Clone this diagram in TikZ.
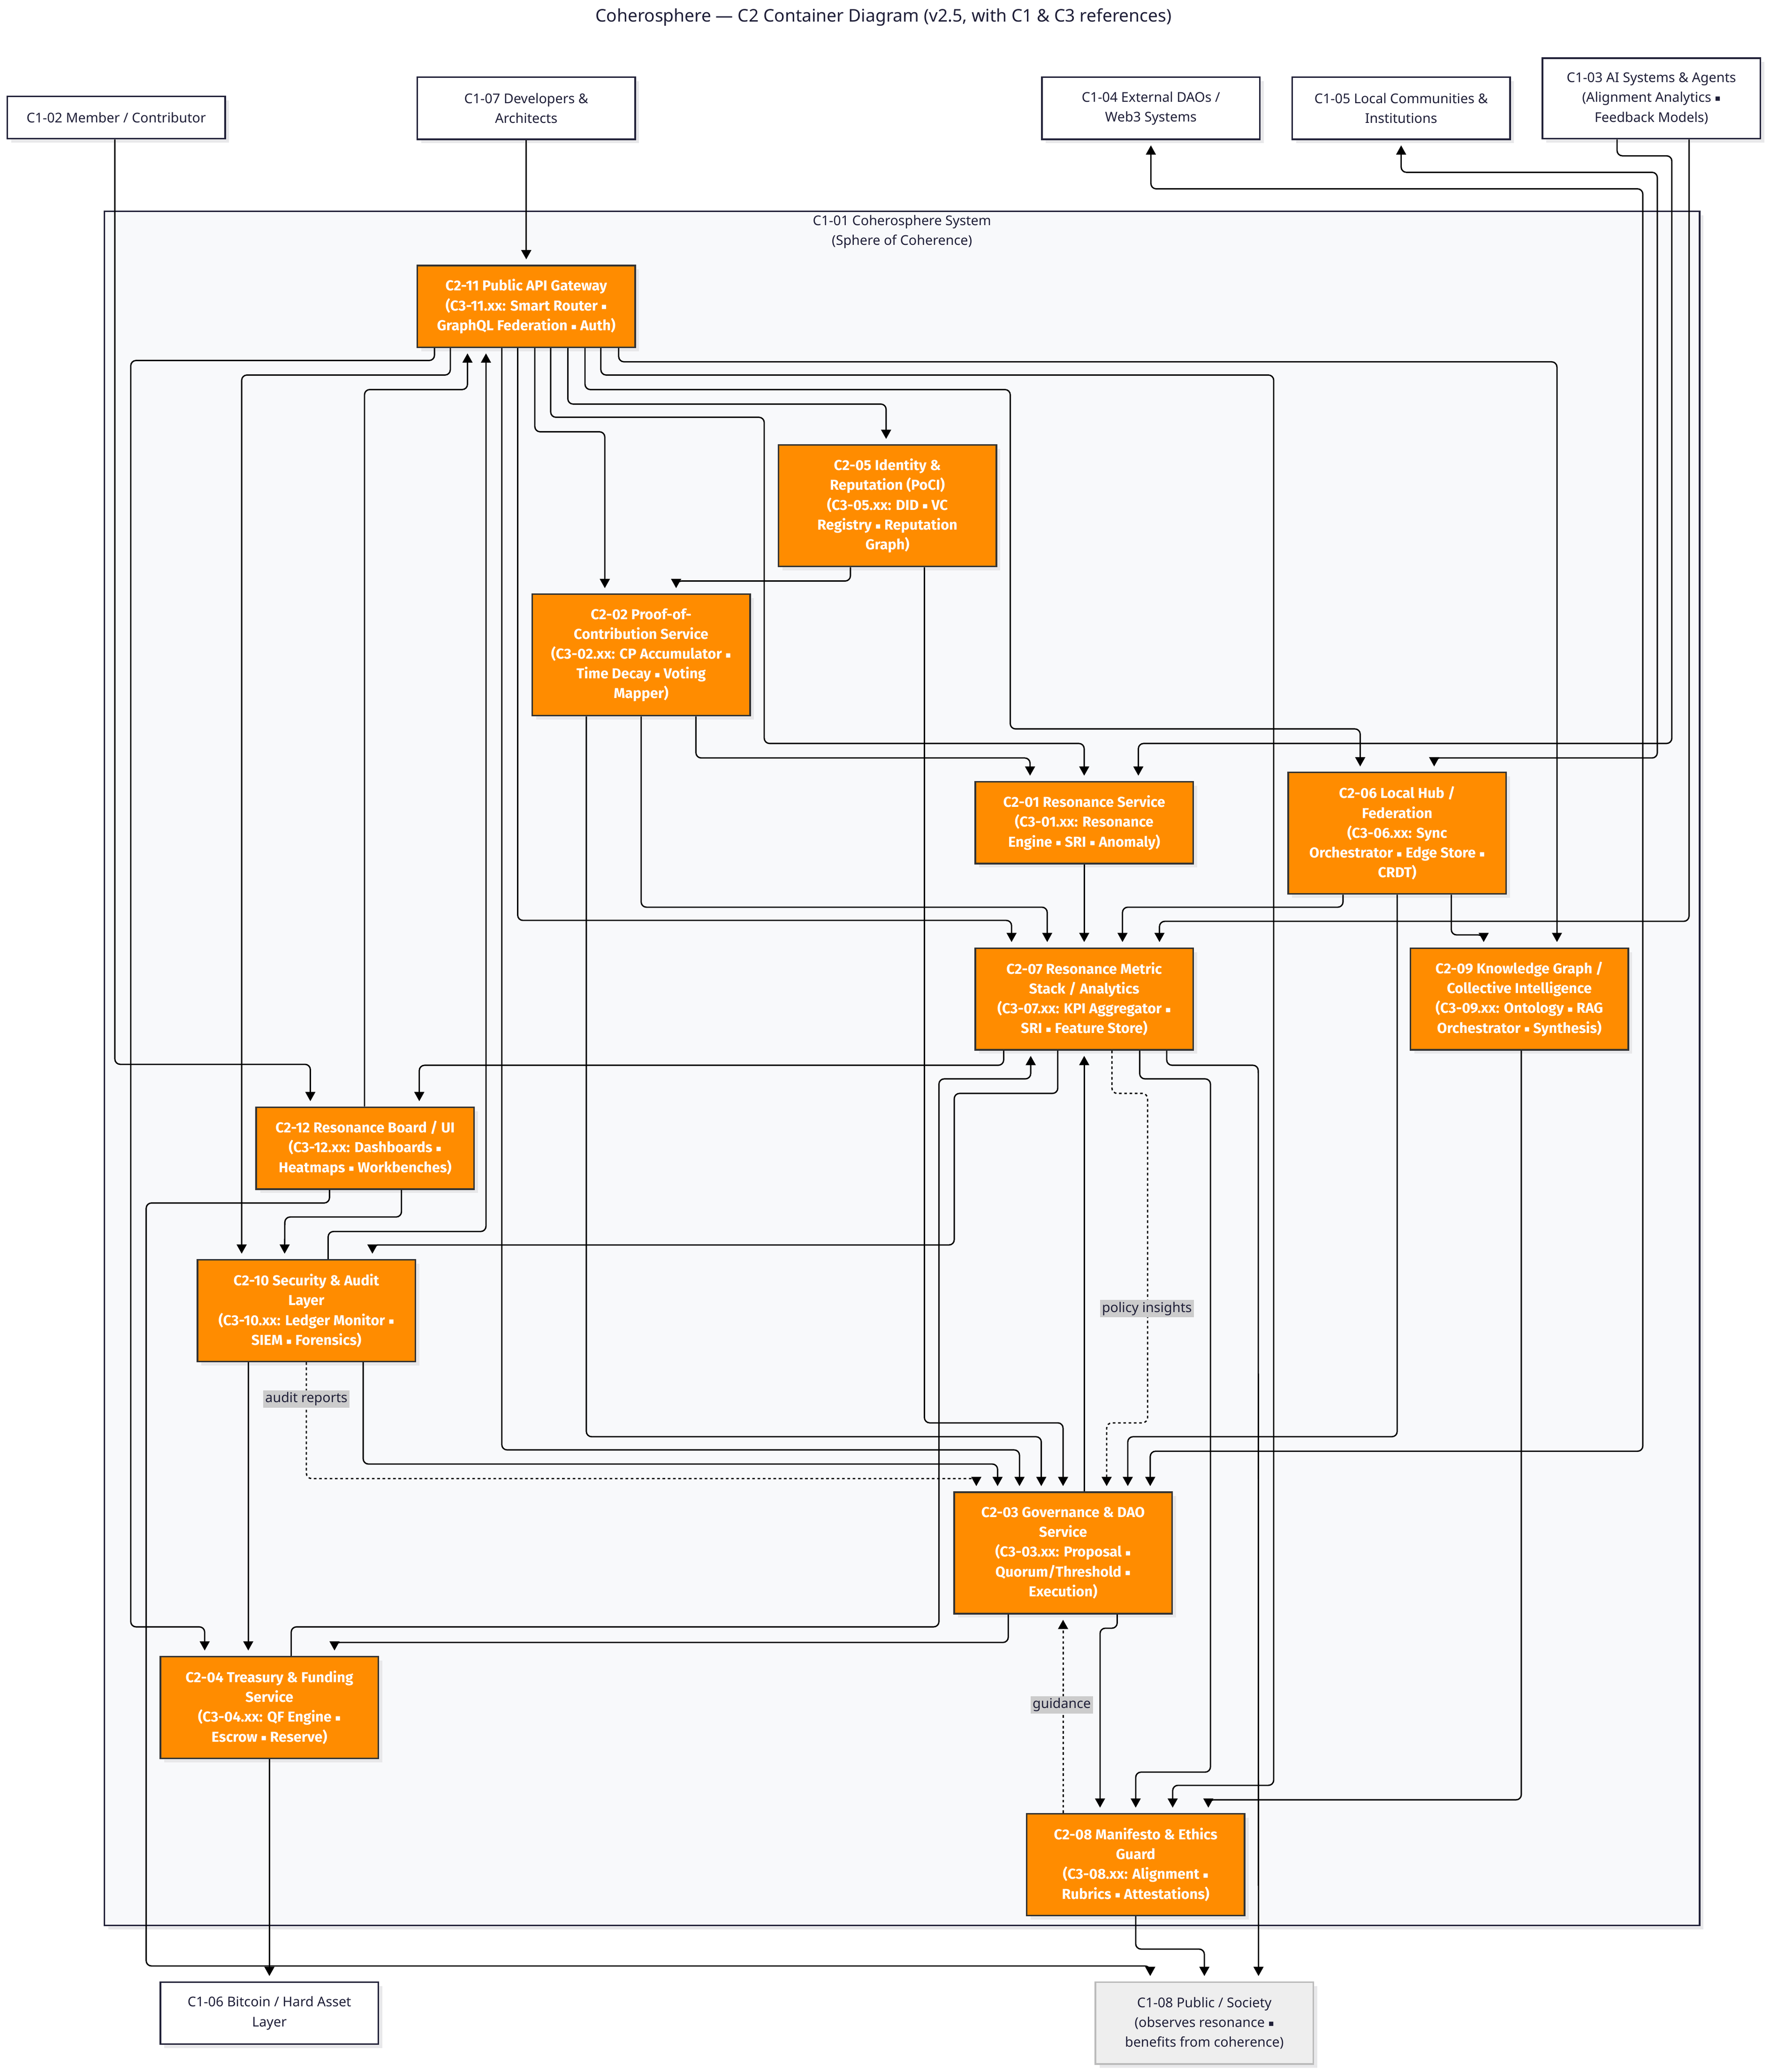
\documentclass[tikz,border=0pt]{standalone}
\usepackage{fontspec}
\setmainfont{Noto Sans}
\newfontfamily\cfont{Fira Sans}
\newfontfamily\symfont{DejaVu Sans}
\usetikzlibrary{arrows.meta,shadows}

\definecolor{c2orange}{HTML}{FF8C00}
\definecolor{c2line}{HTML}{333333}
\definecolor{c1navy}{HTML}{23233A}
\definecolor{c1text}{HTML}{1F1F38}
\definecolor{bndfill}{HTML}{F8F9FB}
\definecolor{shadowgray}{HTML}{E8E8EA}
\definecolor{lblgray}{HTML}{CCCCCC}
\definecolor{pubfill}{HTML}{EEEEEE}
\definecolor{publine}{HTML}{BBBBBB}

\newcommand{\bul}{\raisebox{0.8pt}{\symfont\fontsize{6.5}{6.5}\selectfont ▪}}

\tikzset{
  c1/.style={draw=c1navy, line width=1.2pt, fill=white, text=c1text, align=center,
    minimum width=165pt, font=\fontsize{10.2}{15}\selectfont,
    drop shadow={shadow xshift=3pt, shadow yshift=-3pt, fill=shadowgray, opacity=1}},
  c2/.style={c1, draw=c2line, fill=c2orange, text=white,
    font=\cfont\bfseries\fontsize{10.9}{15}\selectfont},
  tall/.style={minimum height=#1pt},
  rel/.style={draw=black, line width=1pt, rounded corners=4pt,
    -{Triangle[length=7pt,width=7.5pt]}, shorten >=4pt},
  birel/.style={rel, {Triangle[length=7pt,width=7.5pt]}-{Triangle[length=7pt,width=7.5pt]},
    shorten <=4pt},
  dotrel/.style={rel, dash pattern=on 2pt off 2pt},
  lbl/.style={fill=lblgray, text=c1text, inner sep=1.5pt, font=\fontsize{10.2}{11}\selectfont}
}

\begin{document}
\begin{tikzpicture}[x=1pt,y=-1pt]
  \fill[white] (0,0) rectangle (1340,1569.1);
  \useasboundingbox (0,0) rectangle (1340,1569.1);

  % title
  \node[text=c1text, font=\fontsize{13.2}{15}\selectfont] (title) at (669,13)
    {Coherosphere — C2 Container Diagram (v2.5, with C1 \& C3 references)};

  % system boundary
  \draw[c1navy, line width=1.2pt, fill=bndfill,
    drop shadow={shadow xshift=3pt, shadow yshift=-3pt, fill=shadowgray, opacity=1}]
    (79,160) rectangle (1287,1458);
  \node[text=c1text, align=center, font=\fontsize{10.2}{15}\selectfont] (sys) at (683,175.5)
    {C1-01 Coherosphere System\\(Sphere of Coherence)};

  % C1 context
  \node[c1, tall=32] (mem) at (88,89) {C1-02 Member / Contributor};
  \node[c1, tall=47] (dev) at (398.5,82) {C1-07 Developers \&\\Architects};
  \node[c1, tall=47] (dao) at (871.5,82) {C1-04 External DAOs /\\Web3 Systems};
  \node[c1, tall=47] (loc) at (1061,82) {C1-05 Local Communities \&\\Institutions};
  \node[c1, tall=61] (ai) at (1250.5,74.5) {C1-03 AI Systems \& Agents\\(Alignment Analytics \bul\\Feedback Models)};
  \node[c1, tall=47] (btc) at (204,1524.5) {C1-06 Bitcoin / Hard Asset\\Layer};
  \node[c1, tall=62, draw=publine, fill=pubfill] (pub) at (912,1532) {C1-08 Public / Society\\(observes resonance \bul\\benefits from coherence)};

  % C2 containers
  \node[c2, tall=62] (gw) at (398.5,232) {C2-11 Public API Gateway\\(C3-11.xx: Smart Router \bul\\GraphQL Federation \bul{} Auth)};
  \node[c2, tall=92] (idn) at (672,383) {C2-05 Identity \&\\Reputation (PoCI)\\(C3-05.xx: DID \bul{} VC\\Registry \bul{} Reputation\\Graph)};
  \node[c2, tall=92] (poc) at (485.5,496) {C2-02 Proof-of-\\Contribution Service\\(C3-02.xx: CP Accumulator \bul\\Time Decay \bul{} Voting\\Mapper)};
  \node[c2, tall=62] (res) at (821,623) {C2-01 Resonance Service\\(C3-01.xx: Resonance\\Engine \bul{} SRI \bul{} Anomaly)};
  \node[c2, tall=92] (hub) at (1058,631) {C2-06 Local Hub /\\Federation\\(C3-06.xx: Sync\\Orchestrator \bul{} Edge Store \bul\\CRDT)};
  \node[c2, tall=77] (met) at (821,756.5) {C2-07 Resonance Metric\\Stack / Analytics\\(C3-07.xx: KPI Aggregator \bul\\SRI \bul{} Feature Store)};
  \node[c2, tall=77] (kg) at (1150.5,756.5) {C2-09 Knowledge Graph /\\Collective Intelligence\\(C3-09.xx: Ontology \bul{} RAG\\Orchestrator \bul{} Synthesis)};
  \node[c2, tall=62] (brd) at (276.5,869.5) {C2-12 Resonance Board / UI\\(C3-12.xx: Dashboards \bul\\Heatmaps \bul{} Workbenches)};
  \node[c2, tall=77] (sec) at (232,992.5) {C2-10 Security \& Audit\\Layer\\(C3-10.xx: Ledger Monitor \bul\\SIEM \bul{} Forensics)};
  \node[c2, tall=92] (gov) at (805,1176) {C2-03 Governance \& DAO\\Service\\(C3-03.xx: Proposal \bul\\Quorum/Threshold \bul\\Execution)};
  \node[c2, tall=77] (trs) at (204,1293) {C2-04 Treasury \& Funding\\Service\\(C3-04.xx: QF Engine \bul\\Escrow \bul{} Reserve)};
  \node[c2, tall=77] (eth) at (860,1412) {C2-08 Manifesto \& Ethics\\Guard\\(C3-08.xx: Alignment \bul\\Rubrics \bul{} Attestations)};

  % relations from the context
  \draw[rel] (dev.south) -- (gw.north);
  \draw[rel] ([xshift=-1pt]mem.south) |- (235,806) -- ([xshift=-41.5pt]brd.north);
  \draw[rel] ([xshift=-26pt]ai.south) |- (1266,118) -- (1266,563) -| ([xshift=41pt]res.north);
  \draw[rel] ([xshift=28.5pt]ai.south) -- (1279,697.7) -| ([xshift=57pt]met.north);
  \draw[birel] ([xshift=28pt]hub.north) |- (1255,574) -- (1255,130.5) -| (loc.south);
  \draw[birel] ([xshift=66pt]gov.north) |- (1244,1099) -- (1244,143) -| (dao.south);

  % gateway fan-out
  \draw[rel] ([xshift=-69.5pt]gw.south) |- (99,273) -- (99,1232) -| ([xshift=-49pt]trs.north);
  \draw[rel] ([xshift=-57.5pt]gw.south) |- (183,284) -- ([xshift=-49pt]sec.north);
  \draw[rel] ([xshift=-0.5pt]brd.north) |- (354,295) -- ([xshift=-44.5pt]gw.south);
  \draw[rel] ([xshift=16.5pt]sec.north) |- (368,932.6) -- ([xshift=-30.5pt]gw.south);
  \draw[rel] ([xshift=-18.5pt]gw.south) -- (380,1098) -| ([xshift=-33pt]gov.north);
  \draw[rel] ([xshift=-6.5pt]gw.south) -- (392,697) -| ([xshift=-55pt]met.north);
  \draw[rel] ([xshift=6.5pt]gw.south) |- (458,327) -- ([xshift=-27.5pt]poc.north);
  \draw[rel] ([xshift=18.5pt]gw.south) |- (578.7,316) -- (578.7,563) -| (res.north);
  \draw[rel] ([xshift=31.5pt]gw.south) |- (671,306) -- ([xshift=-1pt]idn.north);
  \draw[rel] ([xshift=44.5pt]gw.south) |- (765,295) -- (765,552) -| ([xshift=-28pt]hub.north);
  \draw[rel] ([xshift=56.5pt]gw.south) |- (964.5,284) -- (964.5,1352) -| ([xshift=28pt]eth.north);
  \draw[rel] ([xshift=70pt]gw.south) |- (1179,274) -- ([xshift=28.5pt]kg.north);

  % core services
  \draw[rel] ([xshift=-28pt]idn.south) |- (512,440) -- ([xshift=26.5pt]poc.north);
  \draw[rel] ([xshift=28pt]idn.south) -- (700,1077.5) -| (gov.north);
  \draw[rel] ([xshift=41.5pt]poc.south) |- (780,574) -- ([xshift=-41pt]res.north);
  \draw[rel] (poc.south) -- (485.5,687) -| ([xshift=-28pt]met.north);
  \draw[rel] ([xshift=-41.5pt]poc.south) -- (444,1088) -| ([xshift=-16.5pt]gov.north);
  \draw[rel] (res.south) -- (met.north);
  \draw[rel] ([xshift=-41pt]hub.south) |- (850,687) -- ([xshift=29pt]met.north);
  \draw[rel] ([xshift=41pt]hub.south) |- (1123.5,708) -- ([xshift=-27pt]kg.north);
  \draw[rel] (hub.south) -- (1058,1088) -| ([xshift=49pt]gov.north);

  % metric stack
  \draw[rel] ([xshift=-61pt]met.south) |- (317.5,806.7) -- ([xshift=41pt]brd.north);
  \draw[rel] ([xshift=16.5pt]trs.north) |- (711,1232) -- (711,817) -| ([xshift=-40.5pt]met.south);
  \draw[rel] ([xshift=-20pt]met.south) |- (722.6,828) -- (722.6,942.8) -| ([xshift=50pt]sec.north);
  \draw[rel] ([xshift=16pt]gov.north) -- (met.south);
  \draw[dotrel] ([xshift=21pt]met.south) |- (869,828) -- (869,1077.5) -| ([xshift=33pt]gov.north);
  \draw[rel] ([xshift=42pt]met.south) |- (916.6,817) -- (916.6,1342) -| (eth.north);
  \draw[rel] ([xshift=62.5pt]met.south) |- (952.8,806.7) -- ([xshift=41pt]pub.north);
  \draw[rel] ([xshift=1.5pt]kg.south) -- (1152,1363) -| ([xshift=55pt]eth.north);

  % board, security, treasury
  \draw[rel] ([xshift=-27pt]brd.south) |- (110.7,911) -- (110.7,1488.8) -| ([xshift=-41pt]pub.north);
  \draw[rel] ([xshift=27.5pt]brd.south) |- (215.7,921.6) -- ([xshift=-16.5pt]sec.north);
  \draw[rel] ([xshift=-44pt]sec.south) -- ([xshift=-16pt]trs.north);
  \draw[dotrel] (sec.south) -- (232,1119.7) -| ([xshift=-65.7pt]gov.north);
  \draw[rel] ([xshift=43pt]sec.south) -- (275,1108.7) -| ([xshift=-49.6pt]gov.north);
  \draw[rel] ([xshift=-41.5pt]gov.south) |- (253.3,1243.8) -- ([xshift=49.3pt]trs.north);
  \draw[dotrel] ([xshift=-55pt]eth.north) -- (gov.south);
  \draw[rel] ([xshift=41pt]gov.south) |- (833,1233) -- ([xshift=-27pt]eth.north);
  \draw[rel] (eth.south) |- (912,1476) -- (pub.north);
  \draw[rel] (trs.south) -- (btc.north);

  % labels
  \node[lbl] (lpol) at (868.5,991) {policy insights};
  \node[lbl] (laud) at (232,1059.5) {audit reports};
  \node[lbl] (lgui) at (804,1291) {guidance};
\end{tikzpicture}
\end{document}
